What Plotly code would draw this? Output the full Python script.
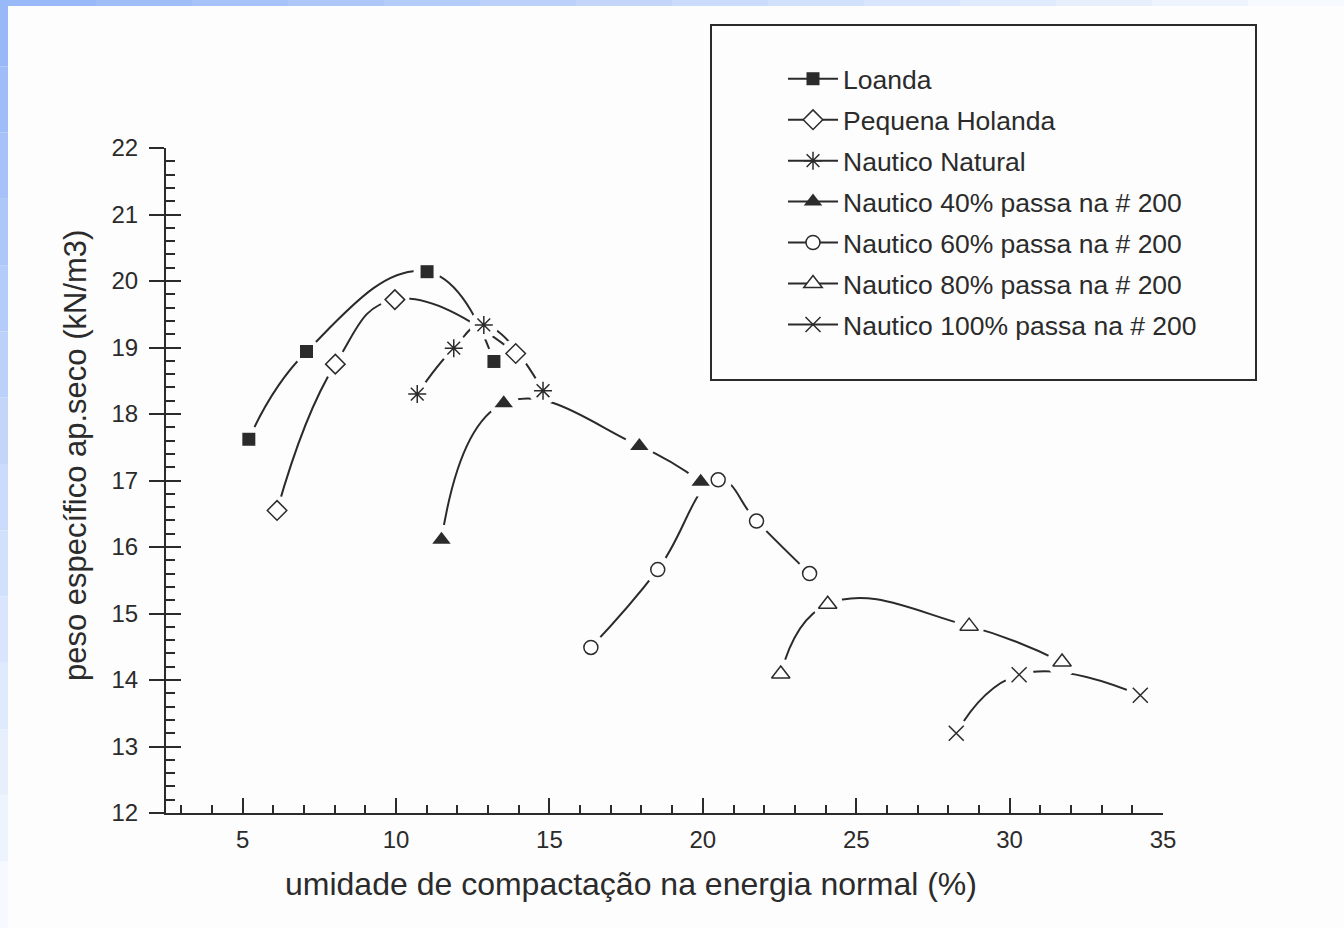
import plotly.graph_objects as go

# ---------------- data ----------------
series_names = [
    "Loanda",
    "Pequena Holanda",
    "Nautico Natural",
    "Nautico 40% passa na # 200",
    "Nautico 60% passa na # 200",
    "Nautico 80% passa na # 200",
    "Nautico 100% passa na # 200",
]

loanda_x = [5.20, 7.08, 11.01, 13.19]
loanda_y = [17.62, 18.94, 20.14, 18.79]

holanda_x = [6.12, 8.02, 9.96, 13.90]
holanda_y = [16.55, 18.75, 19.72, 18.91]

natural_x = [10.69, 11.88, 12.86, 14.79]
natural_y = [18.30, 18.99, 19.34, 18.35]

n40_x = [11.48, 13.51, 17.93, 19.93]
n40_y = [16.11, 18.16, 17.52, 16.98]

n60_x = [16.35, 18.53, 20.50, 21.75, 23.48]
n60_y = [14.49, 15.66, 17.01, 16.39, 15.60]

n80_x = [22.54, 24.07, 28.68, 31.71]
n80_y = [14.09, 15.14, 14.81, 14.27]

n100_x = [28.26, 30.31, 34.26]
n100_y = [13.20, 14.08, 13.77]

x_tickvals = [5, 10, 15, 20, 25, 30, 35]
y_tickvals = [12, 13, 14, 15, 16, 17, 18, 19, 20, 21, 22]

x_title = "umidade de compactação na energia normal (%)"
y_title = "peso específico ap.seco (kN/m3)"

# ---------------- styling ----------------
INK = "#2b2b2b"
BG = "#fdfdfd"
FONT = "Liberation Sans, Arial, sans-serif"
W, H = 1344, 928
ML, MR, MT, MB = 166, 181, 148, 115
PW, PH = W - ML - MR, H - MT - MB


def px_x(px):
    return (px - ML) / PW


def px_y(py):
    return (H - MB - py) / PH


xs = [loanda_x, holanda_x, natural_x, n40_x, n60_x, n80_x, n100_x]
ys = [loanda_y, holanda_y, natural_y, n40_y, n60_y, n80_y, n100_y]
markers = [
    dict(symbol="square", size=13, color=INK, line=dict(width=0, color=INK)),
    dict(symbol="diamond", size=15, color="white", line=dict(width=1.5, color=INK)),
    dict(symbol="asterisk-open", size=15, color=INK, line=dict(width=1.5, color=INK)),
    dict(symbol="triangle-up", size=16, color=INK, line=dict(width=0, color=INK)),
    dict(symbol="circle", size=14, color="white", line=dict(width=1.5, color=INK)),
    dict(symbol="triangle-up", size=16, color="white", line=dict(width=1.5, color=INK)),
    dict(symbol="x-thin-open", size=15, color=INK, line=dict(width=1.5, color=INK)),
]

fig = go.Figure()

# curves (with legend entries)
for i, (name, x, y, mk) in enumerate(zip(series_names, xs, ys, markers)):
    fig.add_trace(go.Scatter(
        x=x, y=y, name=name, mode="lines+markers",
        line=dict(color=INK, width=2, shape="spline", smoothing=1.3),
        marker=mk, legendgroup=f"g{i}", showlegend=True,
    ))

# white halos to break the curves around the markers
for i, (x, y, mk) in enumerate(zip(xs, ys, markers)):
    fig.add_trace(go.Scatter(
        x=x, y=y, mode="markers", showlegend=False, hoverinfo="skip",
        legendgroup=f"g{i}",
        marker=dict(symbol="circle", size=mk["size"] + 14, color=BG,
                    line=dict(width=0)),
    ))

# markers on top
for i, (name, x, y, mk) in enumerate(zip(series_names, xs, ys, markers)):
    fig.add_trace(go.Scatter(
        x=x, y=y, mode="markers", showlegend=False, name=name,
        legendgroup=f"g{i}", marker=mk,
    ))

# invisible trace so the overlaid tick axis (inside ticks) is drawn
fig.add_trace(go.Scatter(
    x=loanda_x, y=loanda_y, yaxis="y2", mode="markers", showlegend=False,
    hoverinfo="skip", marker=dict(opacity=0, size=1),
))

# ---------------- decorative frame (scan border + legend box) ----------------
shapes = []
n_seg = 14
for k in range(n_seg):
    t = k / (n_seg - 1)
    r = int(152 + (246 - 152) * t)
    g = int(184 + (249 - 184) * t)
    b = int(247 + (255 - 247) * t)
    col = f"rgb({r},{g},{b})"
    shapes.append(dict(type="rect", xref="paper", yref="paper",
                       x0=px_x(0), x1=px_x(8),
                       y0=px_y(H * k / n_seg), y1=px_y(H * (k + 1) / n_seg),
                       fillcolor=col, line=dict(width=0), layer="above"))
    shapes.append(dict(type="rect", xref="paper", yref="paper",
                       x0=px_x(W * k / n_seg), x1=px_x(W * (k + 1) / n_seg),
                       y0=px_y(0), y1=px_y(6),
                       fillcolor=col, line=dict(width=0), layer="above"))

shapes.append(dict(type="rect", xref="paper", yref="paper",
                   x0=px_x(711), x1=px_x(1256), y0=px_y(380), y1=px_y(25),
                   line=dict(color=INK, width=2), fillcolor="rgba(0,0,0,0)",
                   layer="below"))

annotations = [
    dict(text=x_title, xref="paper", yref="paper", x=px_x(631), y=px_y(884),
         showarrow=False, xanchor="center", yanchor="middle",
         font=dict(size=32, color=INK, family=FONT)),
    dict(text=y_title, xref="paper", yref="paper", x=px_x(75), y=px_y(456),
         showarrow=False, xanchor="center", yanchor="middle", textangle=-90,
         font=dict(size=31, color=INK, family=FONT)),
]

fig.update_layout(
    width=W, height=H,
    margin=dict(l=ML, r=MR, t=MT, b=MB, pad=0),
    paper_bgcolor=BG, plot_bgcolor=BG,
    font=dict(family=FONT, color=INK, size=24),
    showlegend=True,
    legend=dict(
        x=px_x(783), y=px_y(55), xanchor="left", yanchor="top",
        bgcolor="rgba(0,0,0,0)", borderwidth=0,
        font=dict(size=26.5, color=INK, family=FONT),
        tracegroupgap=3.5, itemwidth=50, traceorder="grouped",
    ),
    shapes=shapes,
    annotations=annotations,
    xaxis=dict(
        range=[2.5, 35], tickvals=x_tickvals, ticks="inside", ticklen=15,
        tickwidth=2, tickcolor=INK, showline=True, linewidth=2, linecolor=INK,
        showgrid=False, zeroline=False, tickfont=dict(size=24, color=INK),
        ticklabelstandoff=4,
        minor=dict(dtick=1, tick0=0, ticks="inside", ticklen=8, tickwidth=1.5,
                   tickcolor=INK, showgrid=False),
    ),
    yaxis=dict(
        range=[12, 22], tickvals=y_tickvals, ticks="outside", ticklen=15,
        tickwidth=2, tickcolor=INK, showline=True, linewidth=2, linecolor=INK,
        showgrid=False, zeroline=False, tickfont=dict(size=24, color=INK),
        ticklabelstandoff=6,
    ),
    yaxis2=dict(
        range=[12, 22], overlaying="y", side="left", anchor="x",
        tickvals=y_tickvals, ticks="inside", ticklen=15, tickwidth=2,
        tickcolor=INK, showticklabels=False, showline=False, showgrid=False,
        zeroline=False,
        minor=dict(dtick=0.2, tick0=12, ticks="inside", ticklen=9,
                   tickwidth=1.5, tickcolor=INK, showgrid=False),
    ),
)

fig.write_html("out.html")
